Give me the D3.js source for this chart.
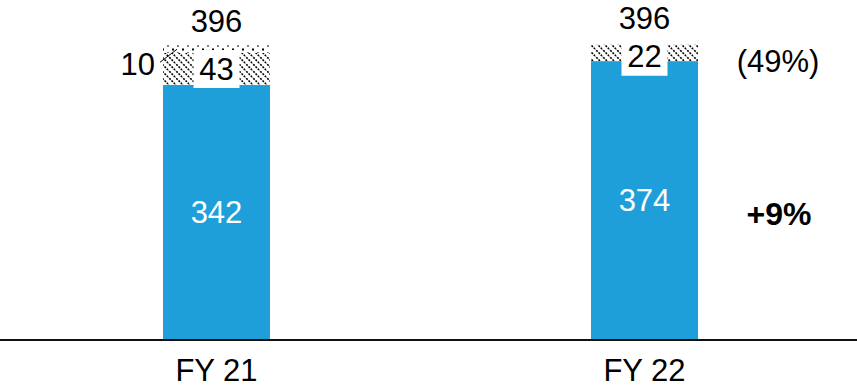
<!DOCTYPE html>
<html>
<head>
<meta charset="utf-8">
<script src="https://cdn.jsdelivr.net/npm/d3@7"></script>
<style>
  html, body { margin: 0; padding: 0; background: #fff; }
  svg { display: block; font-family: Arial, "Liberation Sans", Helvetica, sans-serif; }
</style>
</head>
<body>
<svg id="chart" width="857" height="387"></svg>
<script>
// Revenue build-up per fiscal year
const categories = ["FY 21", "FY 22"];
const coreValues = [342, 374];      // solid blue base
const hatchValues = [43, 22];       // hatched segment
const dotValues = [10, 0];          // dotted cap segment
const totals = [396, 396];          // labels above the bars
const shareLabel = "(49%)";
const growthLabel = "+9%";

const W = 857, H = 387;
const baseY = 340;
const BLUE = "#1e9fd9";
const FONT = 31;

const svg = d3.select("#chart");

const x = d3.scaleBand()
  .domain(categories)
  .range([2.5, 858.5])
  .paddingInner(0.75)
  .paddingOuter(0.375);

const y = d3.scaleLinear()
  .domain([0, 400])
  .range([baseY, baseY - 298.2]);

// Fill patterns
const defs = svg.append("defs");
const hatch = defs.append("pattern")
  .attr("id", "hatch")
  .attr("patternUnits", "userSpaceOnUse")
  .attr("width", 7).attr("height", 7);
hatch.append("rect").attr("width", 7).attr("height", 7).attr("fill", "#fff");
hatch.append("path")
  .attr("d", "M-1,-1 L8,8 M-4.5,2.5 L0.5,7.5 M2.5,-4.5 L7.5,0.5")
  .attr("stroke", "#000").attr("stroke-width", 1.6)
  .attr("stroke-dasharray", "2,1.2");

const dots = defs.append("pattern")
  .attr("id", "dots")
  .attr("patternUnits", "userSpaceOnUse")
  .attr("width", 10).attr("height", 8);
dots.append("rect").attr("width", 10).attr("height", 8).attr("fill", "#fff");
dots.append("rect").attr("x", 2).attr("y", 0.5).attr("width", 2).attr("height", 2).attr("fill", "#000");
dots.append("rect").attr("x", 7).attr("y", 4.5).attr("width", 2).attr("height", 2).attr("fill", "#000");

const rows = categories.map((c, i) => ({
  cat: c,
  core: coreValues[i],
  hatch: hatchValues[i],
  dot: dotValues[i],
  total: totals[i]
}));

const g = svg.append("g");

// Dotted cap segments
g.selectAll("rect.dot")
  .data(rows.filter(d => d.dot > 0))
  .join("rect")
  .attr("class", "dot")
  .attr("x", d => x(d.cat))
  .attr("width", x.bandwidth())
  .attr("y", d => y(d.core + d.hatch + d.dot))
  .attr("height", d => y(d.core + d.hatch) - y(d.core + d.hatch + d.dot))
  .attr("fill", "url(#dots)");

// Hatched segments
g.selectAll("rect.hatch")
  .data(rows)
  .join("rect")
  .attr("class", "hatch")
  .attr("x", d => x(d.cat))
  .attr("width", x.bandwidth())
  .attr("y", d => y(d.core + d.hatch))
  .attr("height", d => y(d.core) - y(d.core + d.hatch))
  .attr("fill", "url(#hatch)");

// Blue base segments
g.selectAll("rect.core")
  .data(rows)
  .join("rect")
  .attr("class", "core")
  .attr("x", d => x(d.cat))
  .attr("width", x.bandwidth())
  .attr("y", d => y(d.core))
  .attr("height", d => baseY - y(d.core))
  .attr("fill", BLUE);

// Value labels inside the blue segments
g.selectAll("text.core")
  .data(rows)
  .join("text")
  .attr("class", "core")
  .attr("x", d => x(d.cat) + x.bandwidth() / 2)
  .attr("y", d => y(d.core / 2))
  .attr("text-anchor", "middle")
  .attr("dominant-baseline", "central")
  .attr("font-size", FONT)
  .attr("fill", "#fff")
  .text(d => d.core);

// Hatched segment labels on white boxes
const hl = g.selectAll("g.hlabel")
  .data(rows)
  .join("g")
  .attr("class", "hlabel")
  .attr("transform", d => `translate(${x(d.cat) + x.bandwidth() / 2},${Math.max(y(d.core + d.hatch / 2), y(d.core + d.hatch) + 12)})`);
hl.append("rect")
  .attr("x", -23).attr("y", -19)
  .attr("width", 46).attr("height", 38)
  .attr("fill", "#fff");
hl.append("text")
  .attr("text-anchor", "middle")
  .attr("dominant-baseline", "central")
  .attr("font-size", FONT)
  .attr("fill", "#000")
  .text(d => d.hatch);

// Totals above the bars
g.selectAll("text.total")
  .data(rows)
  .join("text")
  .attr("class", "total")
  .attr("x", d => x(d.cat) + x.bandwidth() / 2)
  .attr("y", (d, i) => y(d.total) - (i === 0 ? 13 : 16))
  .attr("text-anchor", "middle")
  .attr("font-size", FONT)
  .attr("fill", "#000")
  .text(d => d.total);

// Dotted cap label with leader line
rows.filter(d => d.dot > 0).forEach(d => {
  const x0 = x(d.cat);
  const ymid = y(d.core + d.hatch + d.dot / 2);
  g.append("line")
    .attr("x1", x0 - 3).attr("y1", ymid + 13)
    .attr("x2", x0 + 14).attr("y2", ymid)
    .attr("stroke", "#000").attr("stroke-width", 1);
  g.append("text")
    .attr("x", x0 - 8)
    .attr("y", ymid + 15)
    .attr("text-anchor", "end")
    .attr("dominant-baseline", "central")
    .attr("font-size", FONT)
    .attr("fill", "#000")
    .text(d.dot);
});

// Side annotations for FY 22
svg.append("text")
  .attr("x", 778)
  .attr("y", y(totals[1]) + 17)
  .attr("text-anchor", "middle")
  .attr("dominant-baseline", "central")
  .attr("font-size", FONT)
  .attr("fill", "#000")
  .text(shareLabel);
svg.append("text")
  .attr("x", 779)
  .attr("y", y(coreValues[0] / 2) + 1)
  .attr("text-anchor", "middle")
  .attr("dominant-baseline", "central")
  .attr("font-size", FONT + 1)
  .attr("font-weight", "bold")
  .attr("fill", "#000")
  .text(growthLabel);

// Category axis
const axis = svg.append("g")
  .attr("transform", `translate(0,${baseY})`)
  .call(d3.axisBottom(x).tickSize(0).tickPadding(19));
axis.select(".domain").remove();
axis.selectAll("text")
  .attr("font-size", FONT)
  .attr("font-family", "Arial, 'Liberation Sans', sans-serif")
  .attr("fill", "#000");

svg.append("line")
  .attr("x1", 0).attr("x2", W)
  .attr("y1", baseY).attr("y2", baseY)
  .attr("stroke", "#111").attr("stroke-width", 2);
</script>
</body>
</html>
